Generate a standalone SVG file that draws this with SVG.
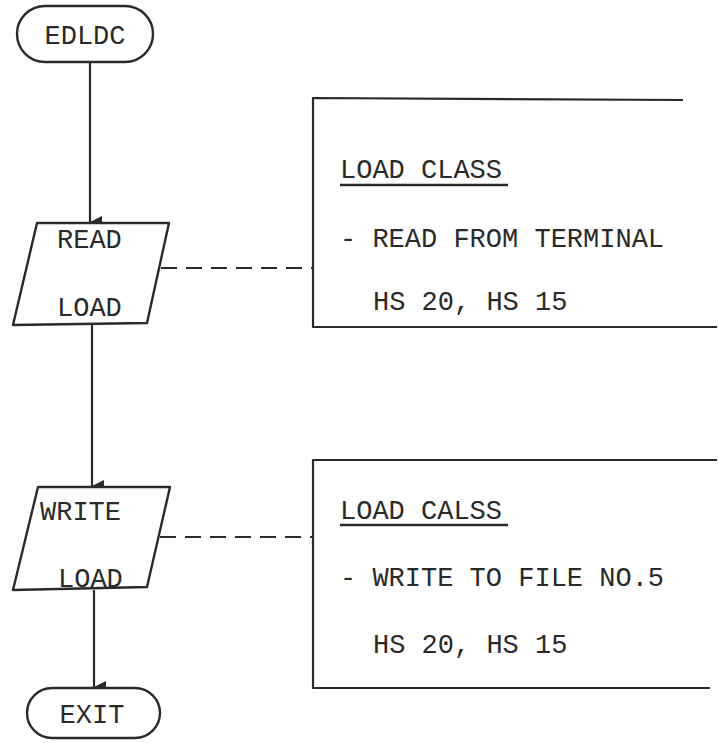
<svg xmlns="http://www.w3.org/2000/svg" width="719" height="743" viewBox="0 0 719 743">
<style>
.s{fill:none;stroke:#2a2a2a;stroke-width:2.2;stroke-linejoin:round}
.n{fill:#fff;stroke:#2a2a2a;stroke-width:2.4;stroke-linejoin:round}
.t{font-family:"Liberation Mono","DejaVu Sans Mono",monospace;font-size:27px;fill:#2a2a2a}
.d{fill:none;stroke:#2a2a2a;stroke-width:2.2;stroke-dasharray:16,9}
.u{stroke:#2a2a2a;stroke-width:2.4}
</style>
<defs>
<marker id="ah" viewBox="0 0 12 12" refX="6" refY="12" markerWidth="12" markerHeight="12" markerUnits="userSpaceOnUse" orient="auto-start-reverse">
<path d="M0,0 L12,0 L6,12 Z" fill="#2a2a2a"/>
</marker>
</defs>
<rect width="719" height="743" fill="#fff"/>
<g id="connectors">
<line class="s" x1="90" y1="62" x2="90" y2="222" marker-end="url(#ah)"/>
<line class="s" x1="92" y1="325" x2="92" y2="486" marker-end="url(#ah)"/>
<line class="s" x1="94" y1="590" x2="94" y2="687" marker-end="url(#ah)"/>
<line class="d" x1="161" y1="268" x2="313" y2="268"/>
<line class="d" x1="160" y1="537" x2="313" y2="537"/>
</g>
<g id="edldc">
<rect class="n" x="17" y="6" width="136" height="56" rx="28"/>
<text class="t" x="85" y="44" text-anchor="middle">EDLDC</text>
</g>
<g id="read">
<polygon class="n" points="37,223 169,223 147,323 13,325"/>
<text class="t" x="57" y="248">READ</text>
<text class="t" x="57" y="316">LOAD</text>
</g>
<g id="note1">
<path class="s" d="M683,100 L313,98 L313,327 L717,327"/>
<text class="t" x="340" y="178">LOAD CLASS</text>
<line class="u" x1="340" y1="185" x2="508" y2="185"/>
<text class="t" x="340" y="247">- READ FROM TERMINAL</text>
<text class="t" x="373" y="310">HS 20, HS 15</text>
</g>
<g id="write">
<polygon class="n" points="38,487 170,487 147,587 13,590"/>
<text class="t" x="40" y="520">WRITE</text>
<text class="t" x="58" y="587">LOAD</text>
</g>
<g id="note2">
<path class="s" d="M717,460 L313,460 L313,688 L710,688"/>
<text class="t" x="340" y="519">LOAD CALSS</text>
<line class="u" x1="340" y1="525" x2="508" y2="525"/>
<text class="t" x="340" y="586">- WRITE TO FILE NO.5</text>
<text class="t" x="373" y="653">HS 20, HS 15</text>
</g>
<g id="exit">
<rect class="n" x="27" y="688" width="133" height="50" rx="25"/>
<text class="t" x="92" y="723" text-anchor="middle">EXIT</text>
</g>
</svg>
